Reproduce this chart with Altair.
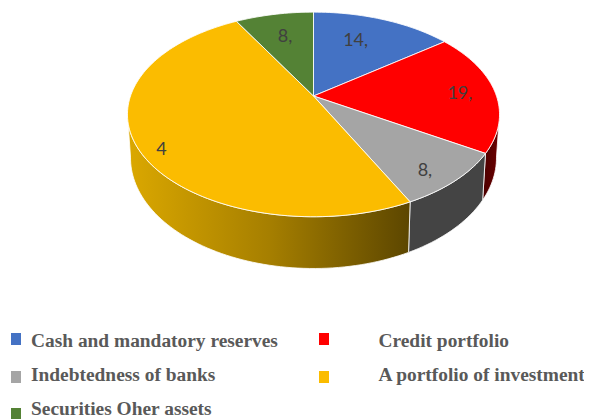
import math
import altair as alt
import pandas as pd

# ---- data ----
categories = ["Cash and mandatory reserves", "Credit portfolio", "Indebtedness of banks",
              "A portfolio of investment", "Securities Oher assets"]
shares = [14.6, 19.2, 8.9, 49.2, 8.1]
slice_labels = ["14,", "19,", "8,", "4", "8,"]
top_colors = ["#4472C4", "#FF0000", "#A5A5A5", "#FBBC00", "#548235"]

# ---- layout / projection of the tilted disc ----
W, H = 576, 411
OFF = 8  # page margin, pixel positions below are given in page pixels
K = 0.18
TOP = dict(cx=313.5, cy=96.0, a=183.0, b=99.0)
LOW = dict(cx=313.5, cy=138.0, a=180.0, b=107.0)
WALL_FROM, WALL_TO = 100.0, 260.0
LABEL_PLACE = [(0.669, -3.8), (0.803, 1.5), (0.855, 3.5), (0.904, -5.5), (0.69, 0.0)]
LEGEND_POS = [(11, 31, 339, 347), (319, 378.5, 339, 347), (11, 31, 377, 381),
              (319, 378.5, 377, 381), (11, 31, 414, 415)]


def project(theta, disc, rho=1.0):
    t = math.radians(theta)
    X, Y = rho * math.sin(t), rho * math.cos(t)
    w = 1 + K * Y
    return disc["cx"] + disc["a"] * X / w - OFF, disc["cy"] - disc["b"] * Y / w - OFF


def arc(t0, t1, disc, step=1.5):
    n = max(2, int(abs(t1 - t0) / step))
    return [project(t0 + (t1 - t0) * i / n, disc) for i in range(n + 1)]


def frame(points):
    return pd.DataFrame({"px": [p[0] for p in points], "py": [p[1] for p in points],
                         "i": list(range(len(points)))})


xs = alt.Scale(domain=[0, W], range=[0, W])
ys = alt.Scale(domain=[0, H], range=[0, H])
X_ = alt.X("px:Q", scale=xs, axis=None)
Y_ = alt.Y("py:Q", scale=ys, axis=None)

edges = [0.0]
for s in shares:
    edges.append(edges[-1] + s * 3.6)

layers = []


def polygon(points, fill, stroke="#FFFFFF", sw=1.0, so=0.85):
    return alt.Chart(frame(points)).mark_line(
        fill=fill, stroke=stroke, strokeWidth=sw, strokeOpacity=so, interpolate="linear-closed"
    ).encode(x=X_, y=Y_, order="i:Q")


yellow_grad = alt.LinearGradient(gradient="linear", x1=0, x2=1, y1=0, y2=0,
                                 stops=[alt.GradientStop(color="#DBA800", offset=0),
                                        alt.GradientStop(color="#A67F00", offset=0.5),
                                        alt.GradientStop(color="#5C4600", offset=1)])
red_grad = alt.LinearGradient(gradient="linear", x1=0, x2=1, y1=0, y2=0,
                              stops=[alt.GradientStop(color="#4A0000", offset=0),
                                     alt.GradientStop(color="#6E0000", offset=1)])

wall_styles = {1: red_grad, 2: "#444444", 3: yellow_grad}
for idx, fill in wall_styles.items():
    t0 = max(edges[idx], WALL_FROM)
    t1 = min(edges[idx + 1], WALL_TO)
    pts = arc(t0, t1, TOP) + arc(t1, t0, LOW)
    layers.append(polygon(pts, fill, so=0.8))

for idx, color in enumerate(top_colors):
    pts = [project(0, TOP, 0.0)] + arc(edges[idx], edges[idx + 1], TOP)
    layers.append(polygon(pts, color))

# slice labels
lab_pts = []
for idx, (rho, dt) in enumerate(LABEL_PLACE):
    lab_pts.append(project((edges[idx] + edges[idx + 1]) / 2 + dt, TOP, rho))
lab = pd.DataFrame({"px": [p[0] for p in lab_pts], "py": [p[1] for p in lab_pts], "t": slice_labels})
layers.append(alt.Chart(lab).mark_text(font="Lato", fontSize=18, color="#404040",
                                       align="center", baseline="middle")
              .encode(x=X_, y=Y_, text="t:N"))

# legend
leg = pd.DataFrame({
    "cat": categories,
    "c": top_colors,
    "sx": [p[0] + 5 - OFF for p in LEGEND_POS],
    "tx": [p[1] - OFF for p in LEGEND_POS],
    "sy": [p[2] - OFF for p in LEGEND_POS],
    "ty": [p[3] - OFF for p in LEGEND_POS],
})
layers.append(alt.Chart(leg).mark_rect(width=10, height=12).encode(
    x=alt.X("sx:Q", scale=xs, axis=None), y=alt.Y("sy:Q", scale=ys, axis=None),
    fill=alt.Fill("c:N", scale=None)))
layers.append(alt.Chart(leg).mark_text(font="Liberation Serif", fontWeight="bold", fontSize=19.4,
                                       color="#595959", align="left", baseline="alphabetic").encode(
    x=alt.X("tx:Q", scale=xs, axis=None), y=alt.Y("ty:Q", scale=ys, axis=None), text="cat:N"))

chart = alt.layer(*layers).properties(
    width=W, height=H, padding=0, autosize=alt.AutoSizeParams(type="none"), background="white"
).configure_view(stroke=None)

chart.save("out.html", embed_options={"renderer": "svg", "actions": False})
